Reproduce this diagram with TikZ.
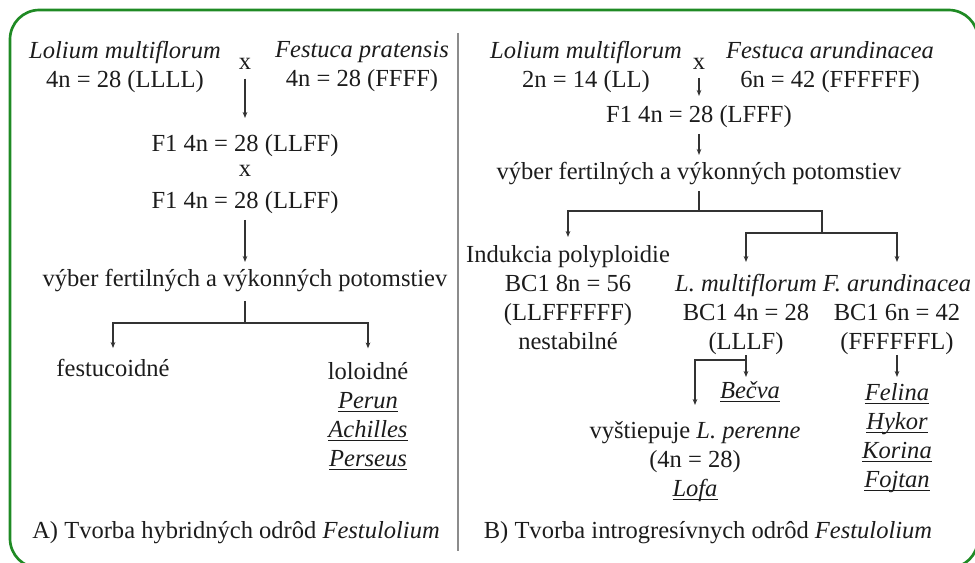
\documentclass[tikz,border=0pt]{standalone}
\usepackage{fontspec}
\setmainfont{Liberation Serif}
\usetikzlibrary{arrows.meta,positioning,calc}
\definecolor{frameGreen}{HTML}{1F8A24}
\definecolor{divGray}{HTML}{8C8C8C}
\definecolor{inkText}{HTML}{1C1C1C}
\definecolor{lineDark}{HTML}{333333}
\newsavebox{\cultbox}
\newcommand{\cultivar}[1]{\sbox{\cultbox}{\textit{#1}}\rlap{\rule[-2.8pt]{\wd\cultbox}{0.8pt}}\usebox{\cultbox}}

\begin{document}
\begin{tikzpicture}[x=0.75pt,y=-0.75pt,
  txt/.style={font=\fontsize{18.4}{21.75}\selectfont,inner sep=0pt,align=center,text=inkText},
  link/.style={draw=lineDark,line width=1pt},
  arrow/.style={link,-{Stealth[length=4.5pt,width=3.5pt]}}
]
\useasboundingbox (0,0) rectangle (975,563);
\begin{scope}
  \clip (0,0) rectangle (975,563);
  \draw[frameGreen,line width=2pt,rounded corners=22pt] (10,10) rectangle (978,568);
\end{scope}
\draw[divGray,line width=1.6pt] (458,33) -- (458,551);

% A) hybrid cultivars
\node[txt,anchor=north] (lolA) at (125,41) {\textit{Lolium multiflorum}\\4n = 28 (LLLL)};
\node[txt,anchor=north] (festA) at (362,41) {\textit{Festuca pratensis}\\4n = 28 (FFFF)};
\node[txt,anchor=north] (crossA) at (245,57.5) {x};
\node[txt,anchor=north] (f1A) at (245,134) {F1 4n = 28 (LLFF)};
\node[txt,anchor=north] (crossB) at (245,164.5) {x};
\node[txt,anchor=north] (f1B) at (245,191) {F1 4n = 28 (LLFF)};
\node[txt,anchor=north] (selA) at (245,269) {výber fertilných a výkonných potomstiev};
\node[txt,anchor=north] (festuc) at (113,358.7) {festucoidné};
\node[txt,anchor=north] (lolo) at (368,361.7) {loloidné\\\cultivar{Perun}\\\cultivar{Achilles}\\\cultivar{Perseus}};
\node[txt] (capA) at (236,533) {A) Tvorba hybridných odrôd \textit{Festulolium}};
\coordinate (brA) at (245,323);

\draw[arrow,shorten <=7pt,shorten >=12pt] (crossA.south) -- (f1A.north);
\draw[arrow,shorten <=4.5pt,shorten >=5.3pt] (f1B.south) -- (selA.north);
\draw[link,shorten <=6.5pt] (selA.south) -- (brA);
\draw[arrow,shorten >=8pt] (brA) -| (festuc.north);
\draw[arrow,shorten >=10pt] (brA) -| (lolo.north);

% B) introgressive cultivars
\node[txt,anchor=north] (lolB) at (586,41) {\textit{Lolium multiflorum}\\2n = 14 (LL)};
\node[txt,anchor=north] (festB) at (830,41) {\textit{Festuca arundinacea}\\6n = 42 (FFFFFF)};
\node[txt,anchor=north] (crossC) at (699,57.5) {x};
\node[txt,anchor=north] (f1C) at (699,105) {F1 4n = 28 (LFFF)};
\node[txt,anchor=north] (selB) at (699,162) {výber fertilných a výkonných potomstiev};
\node[txt,anchor=north] (indB) at (568,245) {Indukcia polyploidie\\BC1 8n = 56\\(LLFFFFFF)\\nestabilné};
\node[txt,anchor=north] (lmB) at (746,274) {\textit{L. multiflorum}\\BC1 4n = 28\\(LLLF)};
\node[txt,anchor=north] (faB) at (897,274) {\textit{F. arundinacea}\\BC1 6n = 42\\(FFFFFFL)};
\node[txt,anchor=north] (becva) at (750,381) {\cultivar{Bečva}};
\node[txt,anchor=north] (vysA) at (695,421) {vyštiepuje \textit{L. perenne}\\(4n = 28)\\\cultivar{Lofa}};
\node[txt,anchor=north] (faVar) at (897,383) {\cultivar{Felina}\\\cultivar{Hykor}\\\cultivar{Korina}\\\cultivar{Fojtan}};
\node[txt] (capB) at (708,533) {B) Tvorba introgresívnych odrôd \textit{Festulolium}};
\coordinate (brB) at (699,211);
\coordinate (brC) at (822,233);
\coordinate (brD) at (746,360);

\draw[arrow,shorten <=6.4pt,shorten >=6.8pt] (crossC.south) -- (f1C.north);
\draw[arrow,shorten <=4.5pt,shorten >=5.3pt] (f1C.south) -- (selB.north);
\draw[link,shorten <=4.5pt] (selB.south) -- (brB);
\draw[arrow,shorten >=6pt] (brB) -| (indB.north);
\draw[link] (brB) -| (brC);
\draw[arrow,shorten >=9pt] (brC) -| (lmB.north);
\draw[arrow,shorten >=9pt] (brC) -| (faB.north);
\draw[arrow,shorten >=3pt] (lmB.south) -- (lmB.south |- becva.north);
\draw[arrow,shorten >=12pt] (brD) -| (vysA.north);
\draw[arrow,shorten >=4.5pt] (faB.south) -- (faVar.north);
\end{tikzpicture}
\end{document}
